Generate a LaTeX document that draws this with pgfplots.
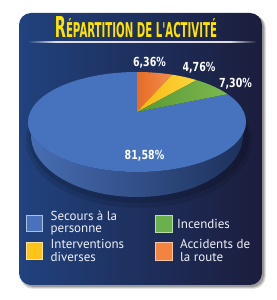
\documentclass[border=0pt]{standalone}
\usepackage{pgfplots}
\pgfplotsset{compat=1.18}
\usepackage{pgfplotstable}
\usepackage{graphicx}
\usepackage{fontspec}
\setmainfont{PT Sans}
\newfontfamily\titlefont{DejaVu Sans}

\definecolor{bgL}{RGB}{33,66,126}
\definecolor{bgR}{RGB}{27,29,60}
\definecolor{pieblue}{RGB}{70,114,190}
\definecolor{sideL}{RGB}{72,110,180}
\definecolor{sideM}{RGB}{52,86,150}
\definecolor{sideR}{RGB}{28,48,90}
\definecolor{orangeA}{RGB}{243,142,82}
\definecolor{orangeB}{RGB}{230,108,36}
\definecolor{yellowA}{RGB}{253,214,62}
\definecolor{yellowB}{RGB}{247,184,18}
\definecolor{greenA}{RGB}{124,184,80}
\definecolor{greenB}{RGB}{92,152,50}
\definecolor{titleyellow}{RGB}{255,226,0}
\definecolor{swblue}{RGB}{72,114,186}
\definecolor{swyellow}{RGB}{252,196,25}
\definecolor{swgreen}{RGB}{106,176,76}
\definecolor{sworange}{RGB}{242,132,63}
\definecolor{legtext}{RGB}{240,240,245}

% slices in drawing order, clockwise from 12 o'clock
\pgfplotstableread{
slice value
Accidents 6.36
Interventions 4.76
Incendies 7.30
Secours 81.58
}\piedata

\newcommand\getval[2]{\pgfplotstablegetelem{#1}{value}\of\piedata\let#2\pgfplotsretval}
\getval{0}\vA \getval{1}\vB \getval{2}\vC \getval{3}\vD

\pgfmathsetmacro\tA{90}
\pgfmathsetmacro\tB{\tA-3.6*\vA}
\pgfmathsetmacro\tC{\tB-3.6*\vB}
\pgfmathsetmacro\tD{\tC-3.6*\vC}

% perspective: true angle -> parameter angle on the drawn ellipse
\newcommand\persp[2]{%
 \pgfmathsetmacro\tmpd{1+0.2*sin(#1)}%
 \pgfmathsetmacro\tmpx{106.8*cos(#1)/\tmpd/109}%
 \pgfmathsetmacro\tmpy{(50*sin(#1)+10)/\tmpd/50}%
 \pgfmathsetmacro#2{atan2(\tmpy,\tmpx)}%
}
\persp{\tA}\pA \persp{\tB}\pB \persp{\tC}\pC \persp{\tD}\pD
\pgfmathsetmacro\pE{\pA-360}
\newcommand\pt[3]{\pgfmathsetmacro#2{137+109*cos(#1)}\pgfmathsetmacro#3{178+50*sin(#1)}}
\pt{\pA}\xA\yA \pt{\pB}\xB\yB \pt{\pC}\xC\yC \pt{\pD}\xD\yD

\newcommand\labfont{\titlefont\bfseries\fontsize{12.5}{12.5}\selectfont}
\newcommand\lab[1]{\scalebox{0.76}[1]{#1}}
\newcommand\two[2]{\begin{tabular}[t]{@{}l@{}}#1\\#2\end{tabular}}

\begin{document}
\begin{tikzpicture}
\begin{axis}[width=276pt, height=300pt, scale only axis,
  xmin=0, xmax=276, ymin=0, ymax=300, hide axis, clip=false]
% page background
\fill[white] (0,0) rectangle (276,300);
% card shadow
\fill[black, opacity=0.10, rounded corners=13pt] (20,11) rectangle (266,285);
\fill[black, opacity=0.15, rounded corners=12pt] (21,12) rectangle (265,285);
\fill[black, opacity=0.20, rounded corners=12pt] (22,13) rectangle (264,285);
% card
\shade[left color=bgL, right color=bgR, rounded corners=12pt] (19,15) rectangle (262,287);
% title
\node[inner sep=0] at (136,272.5) {\resizebox{162pt}{21pt}{\titlefont\bfseries\color{titleyellow}R{\fontsize{7.1}{7}\selectfont ÉPARTITION DE L'ACTIVITÉ}}};
% underline
\shade[left color=bgL, right color=white!85!bgR] (28,257.4) rectangle (55,258.7);
\fill[white!85!bgR] (55,257.4) rectangle (230,258.7);
\shade[left color=white!85!bgR, right color=bgR] (230,257.4) rectangle (257,258.7);
% pie shadow
\fill[black, opacity=0.10] (139,160) ellipse [x radius=113pt, y radius=68pt];
\fill[black, opacity=0.12] (139,162) ellipse [x radius=110pt, y radius=65pt];
% side of the pie
\shade[left color=sideL, middle color=sideM, right color=sideR]
  (28,178) -- (31,165) arc[start angle=180, end angle=360, x radius=106pt, y radius=62pt]
  -- (246,178) arc[start angle=0, end angle=-180, x radius=109pt, y radius=50pt] -- cycle;
% top faces
\fill[pieblue] (137,188) -- (\xD,\yD) arc[start angle=\pD, end angle=\pE, x radius=109pt, y radius=50pt] -- cycle;
\shade[left color=orangeB, right color=orangeA] (137,188) -- (\xA,\yA) arc[start angle=\pA, end angle=\pB, x radius=109pt, y radius=50pt] -- cycle;
\shade[left color=yellowB, right color=yellowA] (137,188) -- (\xB,\yB) arc[start angle=\pB, end angle=\pC, x radius=109pt, y radius=50pt] -- cycle;
\shade[left color=greenB, right color=greenA] (137,188) -- (\xC,\yC) arc[start angle=\pC, end angle=\pD, x radius=109pt, y radius=50pt] -- cycle;
% labels
\node[text=white, font=\labfont, inner sep=0] at (149.5,237.5) {\lab{6,36\%}};
\node[text=white, font=\labfont, inner sep=0] at (199,232) {\lab{4,76\%}};
\node[text=white, font=\labfont, inner sep=0] at (235.5,216) {\lab{7,30\%}};
\node[text=white, font=\labfont, inner sep=0] at (144.5,144.5) {\lab{81,58\%}};
% legend
\filldraw[fill=swblue, draw=white!55!swblue, line width=0.7pt] (26.5,68.5) rectangle (42.5,84.5);
\filldraw[fill=swyellow, draw=white!55!swyellow, line width=0.7pt] (26.5,40.5) rectangle (42.5,57.5);
\filldraw[fill=swgreen, draw=white!55!swgreen, line width=0.7pt] (155.5,67.5) rectangle (172.5,84.5);
\filldraw[fill=sworange, draw=white!55!sworange, line width=0.7pt] (155.5,39.5) rectangle (172.5,57.5);
\begin{scope}[every node/.style={anchor=base west, inner sep=0, text=legtext, font=\fontsize{13}{11}\selectfont}]
\node[font=\fontsize{13}{12}\selectfont] at (50.5,79) {\two{Secours à la}{personne}};
\node at (50.5,51.3) {\two{Interventions}{diverses}};
\node at (177,71.7) {Incendies};
\node at (180,51.3) {\two{Accidents de}{la route}};
\end{scope}
\end{axis}
\end{tikzpicture}
\end{document}
